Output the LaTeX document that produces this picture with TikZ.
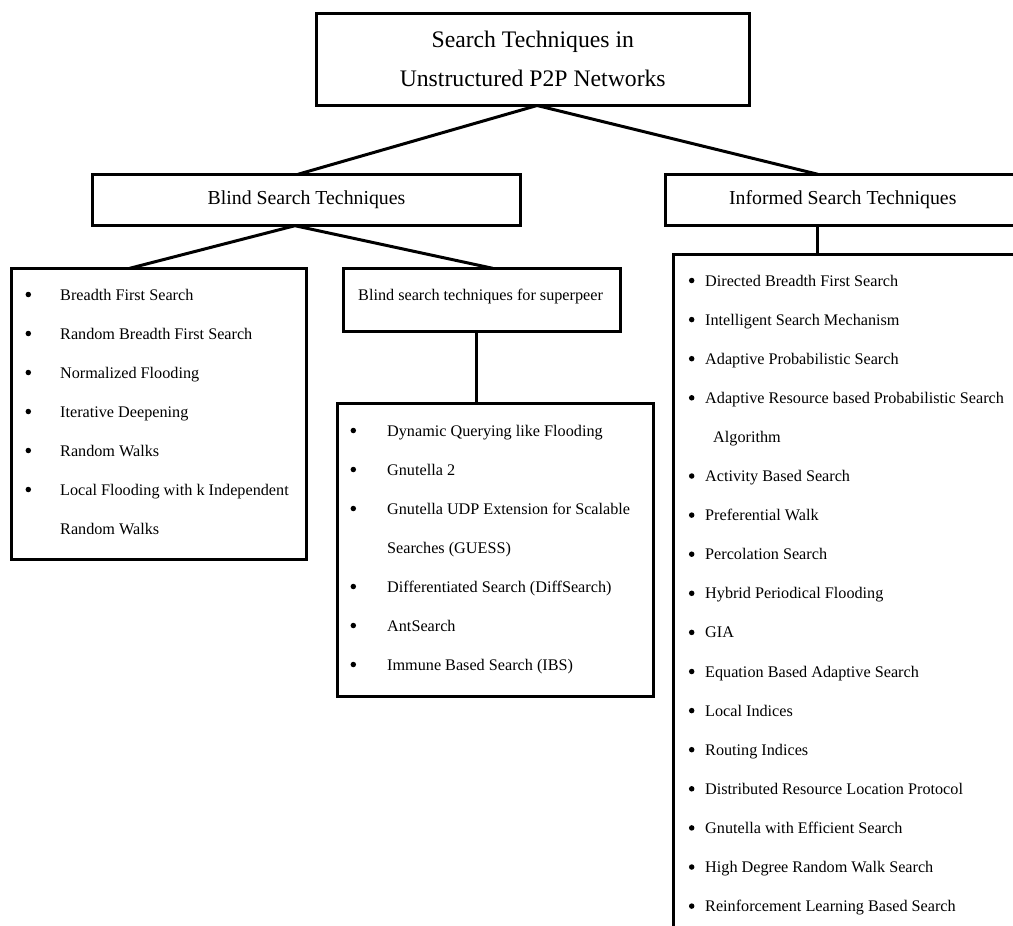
\documentclass[tikz,border=0pt]{standalone}
\usepackage{fontspec}
\setmainfont{Liberation Serif}
\usetikzlibrary{calc, positioning}

\tikzset{
	box/.style={draw, rectangle, line width=3pt, inner sep=0pt, outer sep=0pt},
	link/.style={line width=3pt},
	entry/.style={anchor=base west, inner sep=0pt, font=\fontsize{16.2}{19}\selectfont},
	dot/.style={circle, fill, inner sep=0pt, minimum size=5.5pt},
}

\begin{document}
\begin{tikzpicture}[x=1pt, y=-1pt]
		\useasboundingbox (0,0) rectangle (1013,926);
		\clip (0,0) rectangle (1013,926);
		% root and the two families
		\node[box, minimum width=432.5pt, minimum height=92.5pt, align=center, font=\fontsize{23.7}{39}\selectfont] (top) at (532.75,59.25) {Search Techniques in\\Unstructured P2P Networks};
		\node[box, minimum width=428.4pt, minimum height=51.4pt, font=\fontsize{19.8}{22}\selectfont] (blind) at (306.5,200) {Blind Search Techniques};
		\node[box, minimum width=354.5pt, minimum height=50.7pt, font=\fontsize{19.8}{22}\selectfont] (informed) at (842.75,199.65) {Informed Search Techniques};
		% list boxes
		\node[box, minimum width=295pt, minimum height=290.7pt] (leftlist) at (159.2,413.65) {};
		\node[box, minimum width=276.7pt, minimum height=63.4pt] (superhead) at (481.65,300) {};
		\node[entry] (superheadtxt) at (358,300) {Blind search techniques for superpeer};
		\node[box, minimum width=315.6pt, minimum height=293.4pt] (superlist) at (495.5,550) {};
		\node[box, minimum width=366.7pt, minimum height=695.7pt] (infolist) at (856.65,602.15) {};
		% connectors
		\coordinate (topfoot) at ($(top.south west)!0.51!(top.south east)$);
		\draw[link] (topfoot) -- ($(blind.north west)!0.48!(blind.north east)$);
		\draw[link] (topfoot) -- ($(informed.north west)!0.43!(informed.north east)$);
		\coordinate (blindfoot) at ($(blind.south west)!0.473!(blind.south east)$);
		\draw[link] (blindfoot) -- ($(leftlist.north west)!0.40!(leftlist.north east)$);
		\draw[link] (blindfoot) -- ($(superhead.north west)!0.54!(superhead.north east)$);
		\coordinate (superfoot) at ($(superhead.south west)!0.483!(superhead.south east)$);
		\draw[link] (superfoot) -- (superfoot |- superlist.north);
		\coordinate (infofoot) at ($(informed.south west)!0.43!(informed.south east)$);
		\draw[link] (infofoot) -- (infofoot |- infolist.north);
		% blind items
		\foreach \t/\b [count=\i] in {Breadth First Search/1, Random Breadth First Search/1, Normalized Flooding/1, Iterative Deepening/1, Random Walks/1, Local Flooding with k Independent/1, Random Walks/0}{
			\node[entry] (ll\i) at (60,{300+39*(\i-1)}) {\t};
			\ifnum\b=1 \node[dot] (llb\i) at (28.3,{294.5+39*(\i-1)}) {}; \fi
		}
		% superpeer items
		\foreach \t/\b [count=\i] in {Dynamic Querying like Flooding/1, Gnutella 2/1, Gnutella UDP Extension for Scalable/1, Searches (GUESS)/0, Differentiated Search (DiffSearch)/1, AntSearch/1, Immune Based Search (IBS)/1}{
			\node[entry] (sl\i) at (387,{436+39*(\i-1)}) {\t};
			\ifnum\b=1 \node[dot] (slb\i) at (353.3,{430.5+39*(\i-1)}) {}; \fi
		}
		% informed items
		\foreach \t/\b [count=\i] in {Directed Breadth First Search/1, Intelligent Search Mechanism/1, Adaptive Probabilistic Search/1, Adaptive Resource based Probabilistic Search/1, Algorithm/0, Activity Based Search/1, Preferential Walk/1, Percolation Search/1, Hybrid Periodical Flooding/1, GIA/1, Equation Based Adaptive Search/1, Local Indices/1, Routing Indices/1, Distributed Resource Location Protocol/1, Gnutella with Efficient Search/1, High Degree Random Walk Search/1, Reinforcement Learning Based Search/1}{
			\node[entry] (il\i) at ({705+8*(1-\b)},{286+39.1*(\i-1)}) {\t};
			\ifnum\b=1 \node[dot] (ilb\i) at (691.7,{280.5+39.1*(\i-1)}) {}; \fi
		}
\end{tikzpicture}
\end{document}
